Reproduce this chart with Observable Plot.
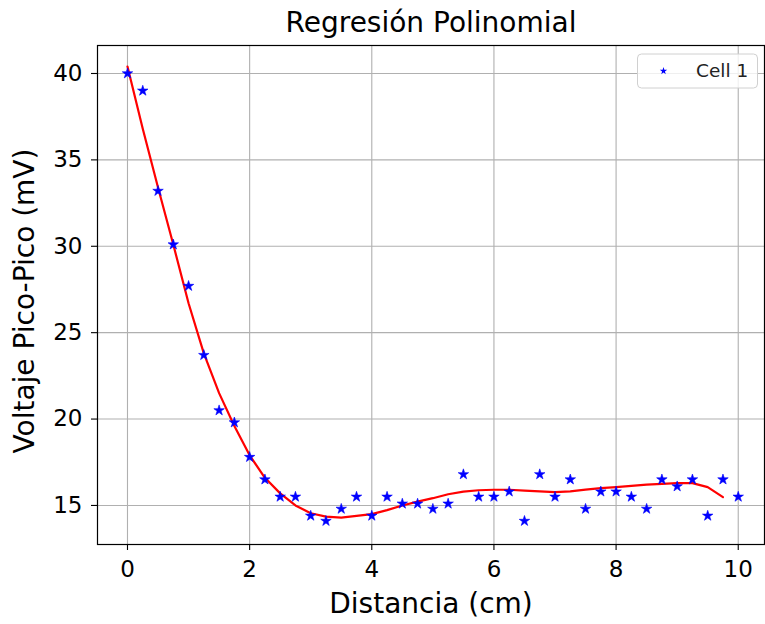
<!DOCTYPE html>
<html><head><meta charset="utf-8">
<script src="https://cdn.jsdelivr.net/npm/d3@7"></script>
<script src="https://cdn.jsdelivr.net/npm/@observablehq/plot@0.6"></script>
<style>
body{margin:0;background:#fff}
#chart svg{font-family:"DejaVu Sans",sans-serif;overflow:visible}
</style>
</head><body><div id="chart"></div>
<script>
const titulo = "Regresión Polinomial";
const etiquetaX = "Distancia (cm)";
const etiquetaY = "Voltaje Pico-Pico (mV)";
const serieNombre = "Cell 1";

const distancia = [0,0.25,0.5,0.75,1,1.25,1.5,1.75,2,2.25,2.5,2.75,3,3.25,3.5,3.75,4,4.25,4.5,4.75,5,5.25,5.5,5.75,6,6.25,6.5,6.75,7,7.25,7.5,7.75,8,8.25,8.5,8.75,9,9.25,9.5,9.75,10];
const voltaje = [40.0,39.0,33.2,30.1,27.7,23.7,20.5,19.8,17.8,16.5,15.5,15.5,14.4,14.1,14.8,15.5,14.4,15.5,15.1,15.1,14.8,15.1,16.8,15.5,15.5,15.8,14.1,16.8,15.5,16.5,14.8,15.8,15.8,15.5,14.8,16.5,16.1,16.5,14.4,16.5,15.5];

const ajusteX = [0,0.25,0.5,0.75,1,1.25,1.5,1.75,2,2.25,2.5,2.75,3,3.25,3.5,3.75,4,4.25,4.5,4.75,5,5.25,5.5,5.75,6,6.25,6.5,6.75,7,7.25,7.5,7.75,8,8.25,8.5,8.75,9,9.25,9.5,9.75];
const ajusteY = [40.4,36.8,33.4,30.1,26.7,23.8,21.5,19.6,17.9,16.6,15.7,15.0,14.55,14.35,14.3,14.4,14.5,14.73,15.0,15.22,15.42,15.65,15.8,15.88,15.91,15.91,15.86,15.81,15.77,15.82,15.92,16.0,16.06,16.13,16.2,16.25,16.29,16.29,16.06,15.48];

const xTicks = [0,2,4,6,8,10];
const yTicks = [15,20,25,30,35,40];

const puntos = distancia.map((d,i)=>({x:d,y:voltaje[i]}));
const curva = ajusteX.map((d,i)=>({x:d,y:ajusteY[i]}));

const chart = Plot.plot({
  width: 765,
  height: 624,
  marginLeft: 97,
  marginRight: 1,
  marginTop: 45,
  marginBottom: 80,
  style: {fontFamily: "DejaVu Sans, sans-serif", color: "#000", background: "#fff"},
  x: {domain: [-0.491, 10.43], ticks: xTicks},
  y: {domain: [12.74, 41.62], ticks: yTicks},
  marks: [
    Plot.gridX(xTicks, {stroke: "#b0b0b0", strokeOpacity: 1, strokeWidth: 1.1}),
    Plot.gridY(yTicks, {stroke: "#b0b0b0", strokeOpacity: 1, strokeWidth: 1.1}),
    Plot.axisX(xTicks, {tickSize: 6, tickPadding: 10, fontSize: 23, label: null, stroke: "#000", strokeWidth: 1.1, fill: "#000"}),
    Plot.axisY(yTicks, {tickSize: 6, tickPadding: 9, fontSize: 23, label: null, stroke: "#000", strokeWidth: 1.1, fill: "#000"}),
    Plot.line(curva, {x: "x", y: "y", stroke: "#ff0000", strokeWidth: 2.2}),
    Plot.dot(puntos, {x: "x", y: "y", symbol: "star", r: 3.3, fill: "#0000ff", stroke: "#0000ff", strokeWidth: 0.6}),
    Plot.frame({stroke: "#000", strokeWidth: 1.2}),
    Plot.text([titulo], {frameAnchor: "top", dy: -22, lineAnchor: "middle", textAnchor: "middle", fontSize: 28, fill: "#000"}),
    Plot.text([etiquetaX], {frameAnchor: "bottom", dy: 60, lineAnchor: "middle", textAnchor: "middle", fontSize: 28, fill: "#000"}),
    Plot.text([etiquetaY], {frameAnchor: "left", dx: -72, dy: 6, rotate: -90, lineAnchor: "middle", textAnchor: "middle", fontSize: 28, fill: "#000"})
  ]
});

// legend (drawn inside the svg, top-right of the frame)
const svg = d3.select(chart);
const lg = svg.append("g").attr("transform", "translate(637.5,54)");
lg.append("rect").attr("width", 120).attr("height", 34).attr("rx", 4)
  .attr("fill", "#fff").attr("fill-opacity", 0.8).attr("stroke", "#d0d0d0").attr("stroke-width", 1);
lg.append("path").attr("transform", "translate(26,17)")
  .attr("d", d3.symbol(d3.symbolStar, 17)())
  .attr("fill", "#0000ff");
lg.append("text").attr("x", 58.5).attr("y", 17).attr("dy", "0.35em")
  .attr("text-anchor", "start")
  .attr("font-size", 18.5).attr("fill", "#222").text(serieNombre);

document.getElementById("chart").appendChild(chart);
</script>
</body></html>
